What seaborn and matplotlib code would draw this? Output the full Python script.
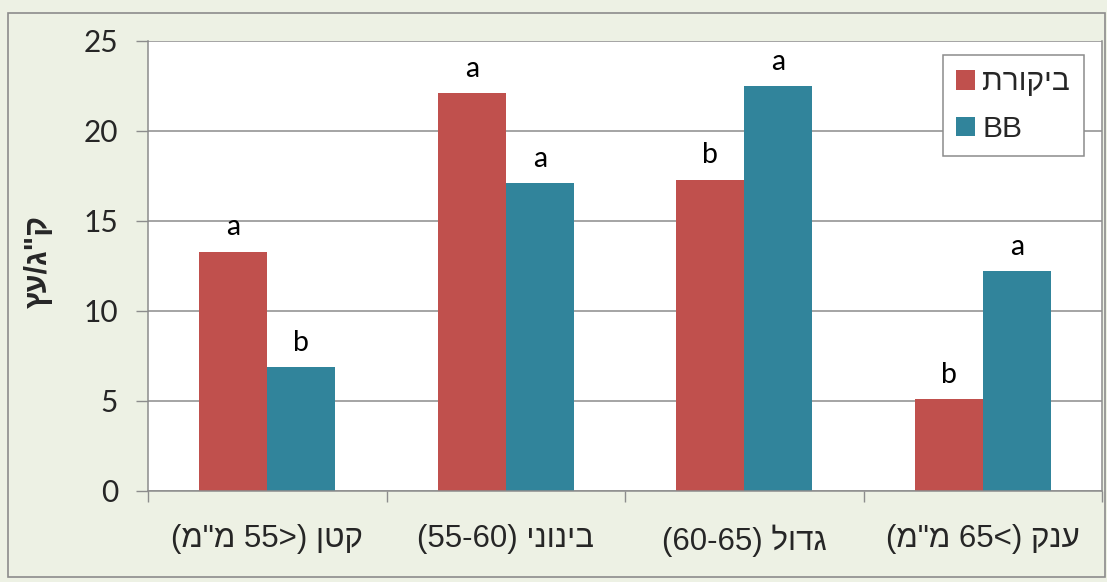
import matplotlib
matplotlib.use("Agg")
import matplotlib.pyplot as plt
from matplotlib.patches import Rectangle
import pandas as pd
import seaborn as sns

# Fruit size classes; Hebrew strings are stored in left-to-right glyph order
# because matplotlib lays text out without bidi reordering.
categories = ['(מ"מ 55>) ןטק', '(55-60) ינוניב', '(60-65) לודג', '(מ"מ 65<) קנע']
series_names = ['תרוקיב', 'BB']
control_values = [13.3, 22.1, 17.3, 5.1]
bb_values = [6.9, 17.1, 22.5, 12.2]
control_letters = ['a', 'a', 'b', 'b']
bb_letters = ['b', 'a', 'a', 'a']
y_ticks = [0, 5, 10, 15, 20, 25]
y_label = 'ץע/ג"ק'

bar_colors = ['#C0504D', '#31849B']
fig_bg = '#EDF1E4'
axis_gray = '#8C8C8C'
heb_font = ['Liberation Sans', 'DejaVu Sans']
num_font = ['Lato', 'DejaVu Sans']

df = pd.DataFrame({
    'size': categories * 2,
    'treatment': [series_names[0]] * len(categories) + [series_names[1]] * len(categories),
    'yield': control_values + bb_values,
})

sns.set_theme(style="white")
plt.rcParams['font.family'] = heb_font

fig = plt.figure(figsize=(11.07, 5.82), dpi=100, facecolor=fig_bg)
ax = fig.add_axes([148 / 1107, 91 / 582, 954 / 1107, 450 / 582])
ax.set_facecolor('white')

# outer chart frame
fig.patches.append(Rectangle((8 / 1107, 5 / 582), 1097 / 1107, 564 / 582,
                             transform=fig.transFigure, fill=False,
                             edgecolor=axis_gray, linewidth=1.2, zorder=0))

sns.barplot(data=df, x='size', y='yield', hue='treatment',
            order=categories, hue_order=series_names,
            palette=bar_colors, saturation=1, width=0.57, gap=0,
            linewidth=0, errorbar=None, ax=ax)

for container, letters in zip(ax.containers, [control_letters, bb_letters]):
    ax.bar_label(container, labels=letters, padding=8, fontsize=20.5,
                 family=num_font, color='black')

ax.set_ylim(0, 25)
ax.set_xlim(-0.5, len(categories) - 0.5)
ax.set_yticks(y_ticks)
ax.set_yticklabels([str(v) for v in y_ticks], family=num_font, fontsize=21.5)
ax.yaxis.grid(True, color=axis_gray, linewidth=1.1)
ax.set_axisbelow(True)

ax.tick_params(axis='y', which='major', direction='out', length=8.5, width=1,
               color=axis_gray, pad=13, left=True)
ax.tick_params(axis='x', which='major', length=0, pad=24, labelsize=22.5)
ax.set_xticks([i - 0.5 for i in range(len(categories) + 1)], minor=True)
ax.tick_params(axis='x', which='minor', direction='out', length=8, width=1,
               color=axis_gray, bottom=True)

for side in ['left', 'bottom', 'right']:
    ax.spines[side].set_visible(True)
    ax.spines[side].set_color(axis_gray)
    ax.spines[side].set_linewidth(1.1)
ax.spines['top'].set_visible(False)

ax.set_xlabel('')
ax.set_ylabel(y_label, fontsize=22, fontweight='bold', family=heb_font)
ax.yaxis.set_label_coords(-0.099, 0.51)

leg = ax.legend(loc='upper left', bbox_to_anchor=(0.8333, 0.969),
                fontsize=21.5, frameon=True, fancybox=False, framealpha=1,
                edgecolor=axis_gray, handlelength=0.62, handleheight=0.62,
                handletextpad=0.25, labelspacing=0.62, borderpad=0.45,
                borderaxespad=0)
leg.get_frame().set_linewidth(1.1)

fig.savefig('out.png', dpi=100, facecolor=fig_bg)
